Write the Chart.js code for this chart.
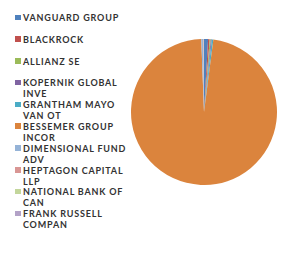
<!DOCTYPE html>
<html>
<head>
<meta charset="utf-8">
<script src="https://cdn.jsdelivr.net/npm/chart.js@4.4.1/dist/chart.umd.min.js"></script>
<style>
  html, body { margin: 0; padding: 0; background: #fff; }
  #wrap { position: relative; width: 291px; height: 255px; overflow: hidden; }
  #pieBox { position: absolute; left: 131px; top: 39px; width: 146px; height: 146px; }
  #legend { position: absolute; left: 15px; top: 12px; width: 110px; margin: 0; padding: 0; list-style: none;
            font-family: Lato, "Liberation Sans", sans-serif; font-weight: bold; font-size: 9px;
            letter-spacing: 0.8px; color: #333; }
  #legend li { position: relative; padding-left: 8px; height: 21.8px; line-height: 11px; white-space: nowrap; }
  #legend li span.box { position: absolute; left: 0; top: 2.5px; width: 5.5px; height: 5.5px; }
</style>
</head>
<body>
<div id="wrap">
  <ul id="legend"></ul>
  <div id="pieBox"><canvas id="pie"></canvas></div>
</div>
<script>
const holders = [
  ['VANGUARD GROUP'],
  ['BLACKROCK'],
  ['ALLIANZ SE'],
  ['KOPERNIK GLOBAL', 'INVE'],
  ['GRANTHAM MAYO', 'VAN OT'],
  ['BESSEMER GROUP', 'INCOR'],
  ['DIMENSIONAL FUND', 'ADV'],
  ['HEPTAGON CAPITAL', 'LLP'],
  ['NATIONAL BANK OF', 'CAN'],
  ['FRANK RUSSELL', 'COMPAN']
];
const sharesPct = [0.9, 0.35, 0.25, 0.2, 0.35, 97.4, 0.4, 0.1, 0.05, 0.05];
const sliceColors = ['#4F81BD', '#C0504D', '#9BBB59', '#8064A2', '#4BACC6', '#DB843D',
                     '#95B3D7', '#D99694', '#C3D69B', '#B3A2C7'];

// legend drawn as html so the long holder names can wrap onto two lines
const htmlLegend = {
  id: 'htmlLegend',
  afterUpdate(chart) {
    const ul = document.getElementById('legend');
    ul.innerHTML = '';
    const items = chart.options.plugins.legend.labels.generateLabels(chart);
    items.forEach((it, i) => {
      const li = document.createElement('li');
      const box = document.createElement('span');
      box.className = 'box';
      box.style.background = it.fillStyle;
      li.appendChild(box);
      const txt = chart.data.labels[i];
      li.appendChild(document.createTextNode(txt[0]));
      for (let k = 1; k < txt.length; k++) {
        li.appendChild(document.createElement('br'));
        li.appendChild(document.createTextNode(txt[k]));
      }
      ul.appendChild(li);
    });
  }
};

new Chart(document.getElementById('pie'), {
  type: 'pie',
  data: {
    labels: holders,
    datasets: [{
      data: sharesPct,
      backgroundColor: sliceColors,
      borderWidth: 0
    }]
  },
  options: {
    responsive: true,
    maintainAspectRatio: false,
    animation: false,
    layout: { padding: 0 },
    plugins: {
      legend: { display: false },
      tooltip: { enabled: false }
    }
  },
  plugins: [htmlLegend]
});
</script>
</body>
</html>
